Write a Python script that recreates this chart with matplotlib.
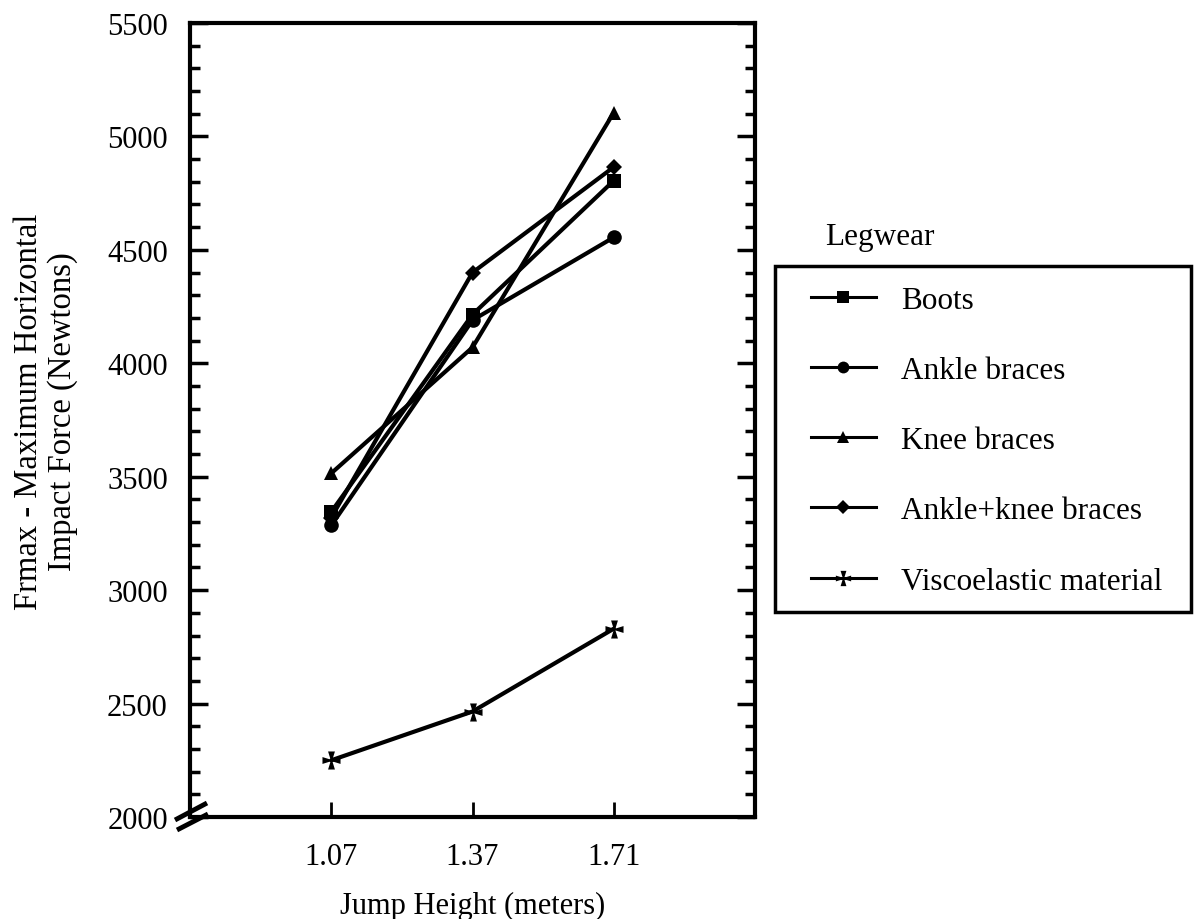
import matplotlib
matplotlib.use("Agg")
import matplotlib.pyplot as plt
from matplotlib.path import Path
from matplotlib.lines import Line2D
from matplotlib.patches import Rectangle

plt.rcParams['font.family'] = ['Liberation Serif', 'DejaVu Serif']

# ---- data ----
jump_heights = ["1.07", "1.37", "1.71"]
boots = [3345, 4215, 4805]
ankle_braces = [3285, 4190, 4555]
knee_braces = [3515, 4070, 5105]
ankle_knee_braces = [3320, 4400, 4865]
viscoelastic = [2250, 2465, 2830]
series_labels = ["Boots", "Ankle braces", "Knee braces",
                 "Ankle+knee braces", "Viscoelastic material"]
y_ticks = [2000, 2500, 3000, 3500, 4000, 4500, 5000, 5500]

# cross pattee marker for viscoelastic material
cross_verts = [(-0.38, 1), (0.38, 1), (0.1, 0.1), (1, 0.38), (1, -0.38),
               (0.1, -0.1), (0.38, -1), (-0.38, -1), (-0.1, -0.1),
               (-1, -0.38), (-1, 0.38), (-0.1, 0.1), (-0.38, 1)]
cross_marker = Path(cross_verts, [Path.MOVETO] + [Path.LINETO] * 11 + [Path.CLOSEPOLY])

W, H = 1194, 920
fig = plt.figure(figsize=(W / 100, H / 100), dpi=100)
AX_L, AX_R, AX_T, AX_B = 190, 755, 24, 818
ax = fig.add_axes([AX_L / W, 1 - AX_B / H, (AX_R - AX_L) / W, (AX_B - AX_T) / H])

x = list(range(len(jump_heights)))
styles = [("s", 10.5), ("o", 10.5), ("^", 10.5), ("D", 8.5), (cross_marker, 13)]
legend_styles = [("s", 8), ("o", 8.5), ("^", 8), ("D", 7), (cross_marker, 11)]
all_series = [boots, ankle_braces, knee_braces, ankle_knee_braces, viscoelastic]
handles = []
for vals, lab, (mk, ms), (lmk, lms) in zip(all_series, series_labels, styles, legend_styles):
    ax.plot(x, vals, color="black", lw=3, marker=mk, markersize=ms,
            markeredgewidth=0, solid_capstyle="round")
    handles.append(Line2D([], [], color="black", lw=2.2, marker=lmk,
                          markersize=lms, markeredgewidth=0, label=lab))

ax.set_xlim(-1, 3)
ax.set_ylim(2000, 5500)
ax.set_xticks(x)
ax.set_xticklabels(jump_heights)
ax.set_yticks(y_ticks)
ax.set_yticks(range(2000, 5501, 100), minor=True)

ax.tick_params(axis="y", which="major", direction="in", length=13, width=2.5,
               right=True, labelsize=22, pad=16)
ax.tick_params(axis="y", which="minor", direction="in", length=7.5, width=2.5,
               right=True)
ax.tick_params(axis="x", which="major", direction="in", length=11, width=2,
               top=False, labelsize=22, pad=18)
for s in ax.spines.values():
    s.set_linewidth(3)

# axis break marks (pixel offsets from the lower-left corner of the axes)
axw, axh = AX_R - AX_L, AX_B - AX_T
for (x0, y0, x1, y1) in [(-15, -3, 17, 14), (-13, -13, 18, 3)]:
    ax.add_line(Line2D([x0 / axw, x1 / axw], [y0 / axh, y1 / axh],
                       transform=ax.transAxes, color="black", lw=3.5,
                       clip_on=False, solid_capstyle="butt"))

ax.set_xlabel("Jump Height (meters)", fontsize=22, labelpad=14)
fig.text(46 / W, 1 - 412 / H, "Frmax - Maximum Horizontal\nImpact Force (Newtons)",
         rotation=90, ha="center", va="center", fontsize=23.5, linespacing=1.15)

# legend: title above the frame, frame drawn as a rectangle
fig.text(880 / W, 1 - 238 / H, "Legwear", ha="center", va="center", fontsize=22.5)
box_l, box_t, box_r, box_b = 775, 267, 1191, 613
fig.add_artist(Rectangle((box_l / W, 1 - box_b / H), (box_r - box_l) / W,
                         (box_b - box_t) / H, transform=fig.transFigure,
                         fill=False, edgecolor="black", linewidth=2.5))
leg = fig.legend(handles=handles, loc="upper left",
                 bbox_to_anchor=(795 / W, 1 - 271 / H), frameon=False,
                 fontsize=22.5, borderpad=0.5, labelspacing=1.32,
                 handlelength=2.08, handletextpad=0.8, borderaxespad=0)

fig.savefig("out.png", dpi=100)
